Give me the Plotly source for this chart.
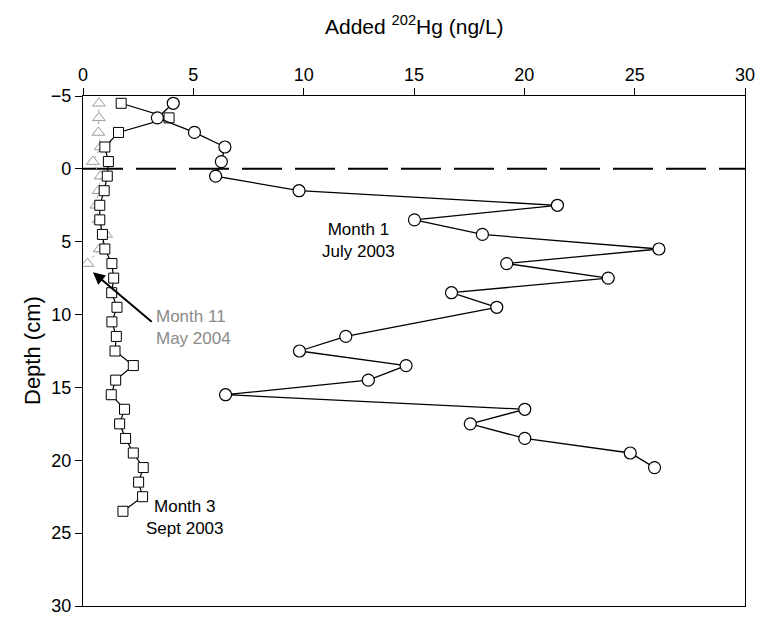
import plotly.graph_objects as go

# Depth profiles of added 202Hg (ng/L) at three sampling dates
depth_m1 = [-4.5, -3.5, -2.5, -1.5, -0.5, 0.5, 1.5, 2.5, 3.5, 4.5, 5.5, 6.5, 7.5,
            8.5, 9.5, 11.5, 12.5, 13.5, 14.5, 15.5, 16.5, 17.5, 18.5, 19.5, 20.5]
hg_m1 = [4.09, 3.37, 5.05, 6.43, 6.27, 6.01, 9.79, 21.5, 15.02, 18.1, 26.1, 19.2, 23.8,
         16.7, 18.75, 11.91, 9.81, 14.64, 12.93, 6.46, 20.02, 17.55, 20.02, 24.8, 25.9]

depth_m3 = [-4.5, -3.5, -2.5, -1.5, -0.5, 0.5, 1.5, 2.5, 3.5, 4.5, 5.5, 6.5, 7.5, 8.5,
            9.5, 10.5, 11.5, 12.5, 13.5, 14.5, 15.5, 16.5, 17.5, 18.5, 19.5, 20.5,
            21.5, 22.5, 23.5]
hg_m3 = [1.73, 3.9, 1.61, 0.99, 1.15, 1.10, 0.96, 0.76, 0.76, 0.88, 0.99, 1.31, 1.39, 1.30,
         1.54, 1.31, 1.51, 1.45, 2.28, 1.48, 1.28, 1.88, 1.66, 1.93, 2.28, 2.73,
         2.52, 2.70, 1.81]

depth_m11 = [-4.5, -3.5, -2.5, -1.5, -0.5, 0.5, 1.5, 2.5, 3.5, 4.5, 5.5, 6.5]
hg_m11 = [0.72, 0.72, 0.70, 0.80, 0.45, 0.80, 0.70, 0.60, 0.70, 1.05, 0.75, 0.20]

x_ticks = [0, 5, 10, 15, 20, 25, 30]
y_ticks = [-5, 0, 5, 10, 15, 20, 25, 30]

FONT = "Liberation Sans, Arial, Helvetica, sans-serif"

fig = go.Figure()

fig.add_trace(go.Scatter(
    x=hg_m11, y=depth_m11, mode="lines+markers", name="Month 11",
    line=dict(color="#a8a8a8", width=1, dash="dot"),
    marker=dict(symbol="triangle-up", size=11, color="white",
                line=dict(color="#9a9a9a", width=1)),
))
fig.add_trace(go.Scatter(
    x=hg_m3, y=depth_m3, mode="lines+markers", name="Month 3",
    line=dict(color="black", width=1.2),
    marker=dict(symbol="square", size=10, color="white",
                line=dict(color="black", width=1)),
))
fig.add_trace(go.Scatter(
    x=hg_m1, y=depth_m1, mode="lines+markers", name="Month 1",
    line=dict(color="black", width=1.3),
    marker=dict(symbol="circle", size=12, color="white",
                line=dict(color="black", width=1.2)),
))

# sediment-water interface
fig.add_shape(type="line", xref="paper", yref="y", x0=0, x1=1, y0=0, y1=0,
              line=dict(color="black", width=2, dash="40px,13px"), layer="below")

ann_font = dict(family=FONT, size=17, color="black")
fig.add_annotation(x=12.5, y=4.9, xref="x", yref="y", text="Month 1<br>July 2003",
                   showarrow=False, font=ann_font, align="center")
fig.add_annotation(x=4.6, y=23.9, xref="x", yref="y", text="Month 3<br>Sept 2003",
                   showarrow=False, font=ann_font, align="center")
fig.add_annotation(x=3.2, y=10.9, xref="x", yref="y", text="Month 11<br>May 2004",
                   showarrow=False, xanchor="left",
                   font=dict(family=FONT, size=17, color="#8a8a8a"), align="left")
fig.add_annotation(x=0.45, y=7.1, ax=3.18, ay=10.58, xref="x", yref="y",
                   axref="x", ayref="y", text="", showarrow=True,
                   arrowhead=2, arrowsize=1.2, arrowwidth=2, arrowcolor="black")

# axis titles
fig.add_annotation(x=0.5, y=1, xref="paper", yref="paper", yanchor="middle",
                   yshift=71, showarrow=False,
                   text="Added <sup>202</sup>Hg (ng/L)",
                   font=dict(family=FONT, size=21, color="black"))
fig.add_annotation(x=0, y=0.5, xref="paper", yref="paper", xanchor="center",
                   xshift=-51, textangle=-90, showarrow=False, text="Depth (cm)",
                   font=dict(family=FONT, size=22, color="black"))

fig.update_xaxes(side="top", range=[0, 30], tickvals=x_ticks,
                 ticks="outside", ticklen=7, tickwidth=1, tickcolor="black",
                 showline=True, linecolor="black", linewidth=1.3, mirror=True,
                 showgrid=False, zeroline=False,
                 tickfont=dict(family=FONT, size=18, color="black"))
fig.update_yaxes(range=[30, -5], tickvals=y_ticks,
                 ticks="outside", ticklen=7, tickwidth=1, tickcolor="black",
                 showline=True, linecolor="black", linewidth=1.3, mirror=True,
                 showgrid=False, zeroline=False,
                 tickfont=dict(family=FONT, size=18, color="black"))

fig.update_layout(
    width=766, height=627,
    margin=dict(l=83, r=13, t=96, b=11),
    paper_bgcolor="white", plot_bgcolor="white",
    showlegend=False,
)

fig.write_html("out.html")
